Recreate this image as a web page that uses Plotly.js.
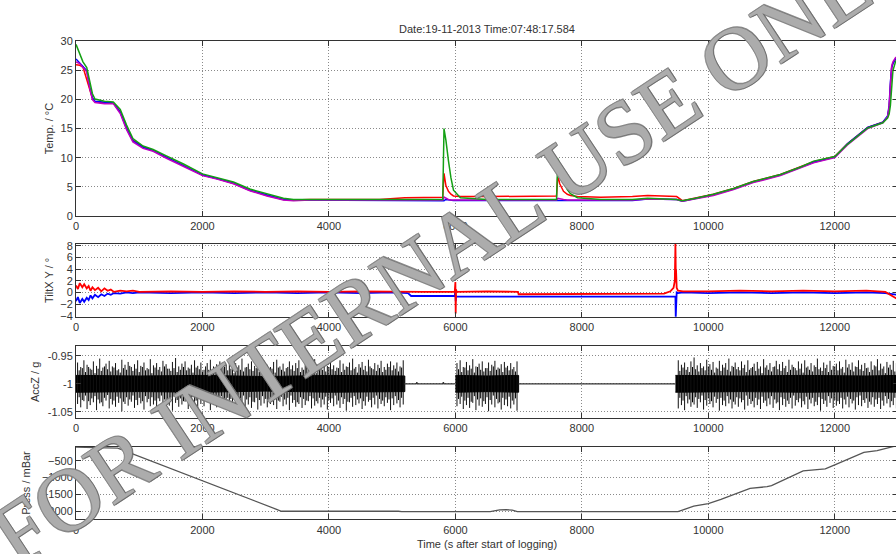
<!DOCTYPE html>
<html><head><meta charset="utf-8">
<script src="https://cdn.plot.ly/plotly-3.0.1.min.js"></script>
<style>html,body{margin:0;padding:0;overflow:hidden;background:#fff}#plot{width:898px;height:554px}</style>
</head><body><div id="plot"></div>
<script>
// ---------- Temperature panel ----------
const tempT = [0,60,110,170,220,260,300,450,590,700,800,900,1060,1220,1430,1700,2000,2230,2490,2750,3020,3280,3440,3700,4200,4800,5200,5500,5800,5820,5850,5890,5930,5970,6080,6500,6980,7300,7600,7620,7650,7710,7770,7820,7930,8300,8800,9040,9400,9500,9590,9800,10080,10400,10710,11140,11460,11665,12000,12200,12520,12760,12835,12860,12880,12900,12920,12960,13000];
const tempGreen = [29.5,28,26.5,25.5,23,21,20.1,19.7,19.6,18.3,15.6,13.3,12,11.4,10.3,8.9,7.2,6.6,5.8,4.6,3.8,3.0,2.8,2.8,2.8,2.8,2.8,2.8,2.8,15,13,9.5,6.5,4.4,3.1,2.8,2.8,2.8,2.8,9.8,8.8,5.8,4.5,3.8,3.1,2.8,2.8,3.0,2.9,2.8,2.6,3.0,3.7,4.7,5.9,7.1,8.4,9.4,10.2,12.3,15.1,16,16.8,17.5,19,22,25,26.5,27];
const tempBlue = [27,26.3,25.8,25,22,20.3,19.7,19.5,19.4,17.8,15,12.9,11.8,11.2,10.1,8.7,7.0,6.4,5.6,4.4,3.6,2.8,2.7,2.7,2.7,2.7,2.7,2.6,2.6,2.6,2.8,2.7,2.6,2.6,2.6,2.6,2.6,2.6,2.6,2.6,2.7,2.6,2.6,2.6,2.6,2.6,2.6,2.9,2.9,2.8,2.5,3.0,3.6,4.6,5.8,7.0,8.3,9.2,10.1,12.4,15.2,16.1,17.2,19,23,25.5,26.2,27,27.5];
const tempRed = [26,25.9,25.6,23.3,21.5,20.2,19.6,19.4,19.4,17.9,15.2,13,11.9,11.3,10.1,8.7,7.0,6.4,5.6,4.4,3.5,2.8,2.7,2.8,2.8,2.8,3.1,3.2,3.2,7.3,5.2,4.2,3.7,3.4,3.3,3.3,3.4,3.4,3.4,7.0,5.5,4.2,3.7,3.5,3.3,3.2,3.3,3.5,3.4,3.3,2.6,3.1,3.7,4.7,5.9,7.1,8.4,9.3,10.2,12.4,15.2,16.1,17.0,18.5,22,25.5,26.3,27,27.5];
const tempMagenta = [26.5,26.2,25.5,24.8,21.8,20,19.5,19.3,19.3,17.6,14.8,12.7,11.6,11.1,9.9,8.5,6.9,6.3,5.5,4.3,3.4,2.7,2.6,2.7,2.7,2.7,2.7,2.7,2.7,3.2,3.0,2.8,2.7,2.7,2.7,2.7,2.7,2.7,2.7,3.0,2.9,2.8,2.7,2.7,2.7,2.7,2.7,2.9,2.9,2.8,2.5,2.9,3.5,4.5,5.7,6.9,8.2,9.1,10.0,12.2,15.0,16.0,17.0,18.8,22.5,25.8,26.5,27.2,27.5];

// ---------- Tilt panel ----------
const tiltT = [0,30,60,100,130,170,200,230,260,300,350,400,450,500,550,600,700,800,900,1000,1500,2000,2500,3000,3500,4000,4500,5000,5250,5300,5500,5990,6000,6005,6010,6020,6500,6990,7000,7500,8000,8500,9000,9300,9400,9450,9470,9480,9485,9490,9500,9520,9600,10000,10500,11000,11500,12000,12500,12800,12900,13000];
const tiltX = [1.2,0.6,1.6,0.9,1.4,0.7,1.1,0.3,0.9,0.4,0.8,0.2,0.7,0.3,0.5,0.1,0.3,0.2,0.3,0.1,0.2,0.1,0.2,0.1,0.2,0.1,0.2,0.1,0.1,0.1,0.1,0.1,1.8,-3.6,0.5,0.1,0.2,0.1,-0.3,-0.3,-0.3,-0.3,-0.3,-0.2,0.2,0.8,2.0,8.4,4.0,3.8,0.8,0.3,0.2,0.2,0.3,0.2,0.3,0.2,0.3,0.1,-0.6,-1.2];
const tiltY = [-1.5,-0.8,-1.8,-1.1,-1.6,-0.9,-1.3,-0.5,-1.0,-0.4,-0.8,-0.3,-0.6,-0.2,-0.4,-0.1,-0.2,0,-0.1,0,-0.1,0,-0.1,0,-0.1,0,-0.1,0,-0.1,-0.6,-0.6,-0.6,0.5,-1.5,-0.6,-0.7,-0.7,-0.7,-0.7,-0.7,-0.7,-0.7,-0.7,-0.7,-0.7,-0.7,-0.7,-0.7,-4.2,-0.5,0,-0.1,0,-0.1,0,-0.1,0,-0.1,0,-0.1,-0.2,-0.4];

// ---------- AccZ panel (noise envelope per 50 s bin) ----------
const accT_A = [25,75,125,175,225,275,325,375,425,475,525,575,625,675,725,775,825,875,925,975,
1025,1075,1125,1175,1225,1275,1325,1375,1425,1475,1525,1575,1625,1675,1725,1775,1825,1875,1925,1975,
2025,2075,2125,2175,2225,2275,2325,2375,2425,2475,2525,2575,2625,2675,2725,2775,2825,2875,2925,2975,
3025,3075,3125,3175,3225,3275,3325,3375,3425,3475,3525,3575,3625,3675,3725,3775,3825,3875,3925,3975,
4025,4075,4125,4175,4225,4275,4325,4375,4425,4475,4525,4575,4625,4675,4725,4775,4825,4875,4925,4975,
5025,5075,5125,5175];
const accHi_A = [-0.962,-0.970,-0.958,-0.966,-0.973,-0.960,-0.968,-0.955,-0.971,-0.964,-0.959,-0.969,-0.963,-0.974,-0.957,-0.966,-0.961,-0.970,-0.965,-0.958,
-0.968,-0.962,-0.972,-0.956,-0.967,-0.963,-0.970,-0.959,-0.965,-0.973,-0.961,-0.954,-0.969,-0.964,-0.960,-0.971,-0.966,-0.958,-0.968,-0.962,
-0.975,-0.963,-0.957,-0.969,-0.965,-0.960,-0.972,-0.966,-0.958,-0.970,-0.963,-0.967,-0.955,-0.971,-0.964,-0.960,-0.968,-0.962,-0.974,-0.959,
-0.966,-0.970,-0.961,-0.957,-0.969,-0.964,-0.972,-0.960,-0.967,-0.963,-0.958,-0.971,-0.965,-0.961,-0.969,-0.956,-0.966,-0.973,-0.962,-0.968,
-0.960,-0.967,-0.971,-0.958,-0.964,-0.969,-0.962,-0.955,-0.970,-0.965,-0.961,-0.968,-0.957,-0.972,-0.963,-0.966,-0.959,-0.970,-0.964,-0.960,
-0.967,-0.962,-0.969,-0.958];
const accLo_A = [-1.036,-1.042,-1.031,-1.045,-1.038,-1.033,-1.047,-1.035,-1.040,-1.030,-1.044,-1.037,-1.041,-1.034,-1.049,-1.036,-1.039,-1.032,-1.043,-1.038,
-1.035,-1.046,-1.033,-1.040,-1.037,-1.042,-1.031,-1.044,-1.036,-1.039,-1.048,-1.034,-1.041,-1.037,-1.032,-1.045,-1.038,-1.035,-1.043,-1.036,
-1.040,-1.033,-1.047,-1.037,-1.042,-1.035,-1.039,-1.031,-1.044,-1.038,-1.036,-1.050,-1.034,-1.041,-1.037,-1.043,-1.033,-1.046,-1.039,-1.035,
-1.042,-1.036,-1.038,-1.045,-1.032,-1.040,-1.037,-1.047,-1.034,-1.041,-1.036,-1.043,-1.038,-1.031,-1.044,-1.039,-1.035,-1.042,-1.037,-1.046,
-1.034,-1.040,-1.037,-1.043,-1.036,-1.048,-1.033,-1.041,-1.038,-1.035,-1.045,-1.039,-1.032,-1.042,-1.037,-1.044,-1.036,-1.040,-1.034,-1.047,
-1.038,-1.035,-1.042,-1.037];
// in-between excursions (one between each pair of neighbouring bins)
const accMidHi_A = [-0.976,-0.972,-0.979,-0.970,-0.975,-0.981,-0.973,-0.977,-0.969,-0.974,-0.978,-0.971,-0.976,-0.980,-0.972,-0.975,-0.968,-0.977,-0.973,-0.979,
-0.970,-0.976,-0.974,-0.981,-0.971,-0.975,-0.978,-0.969,-0.973,-0.977,-0.972,-0.979,-0.975,-0.970,-0.976,-0.973,-0.980,-0.971,-0.974,-0.978,
-0.969,-0.975,-0.977,-0.972,-0.979,-0.974,-0.970,-0.976,-0.973,-0.981,-0.971,-0.975,-0.978,-0.970,-0.974,-0.977,-0.972,-0.979,-0.975,-0.969,
-0.976,-0.973,-0.980,-0.971,-0.975,-0.978,-0.970,-0.974,-0.977,-0.972,-0.979,-0.975,-0.969,-0.976,-0.973,-0.981,-0.971,-0.975,-0.978,-0.970,
-0.974,-0.977,-0.972,-0.979,-0.975,-0.970,-0.976,-0.973,-0.980,-0.971,-0.975,-0.978,-0.969,-0.974,-0.977,-0.972,-0.979,-0.975,-0.970,-0.976,
-0.973,-0.978,-0.971];
const accMidLo_A = [-1.024,-1.029,-1.021,-1.031,-1.026,-1.022,-1.028,-1.033,-1.025,-1.020,-1.027,-1.030,-1.023,-1.026,-1.032,-1.024,-1.028,-1.021,-1.029,-1.025,
-1.031,-1.022,-1.027,-1.024,-1.030,-1.026,-1.021,-1.028,-1.033,-1.025,-1.023,-1.029,-1.026,-1.031,-1.022,-1.027,-1.024,-1.030,-1.025,-1.021,
-1.028,-1.032,-1.024,-1.026,-1.029,-1.022,-1.031,-1.025,-1.027,-1.023,-1.030,-1.026,-1.021,-1.028,-1.024,-1.032,-1.025,-1.029,-1.022,-1.027,
-1.031,-1.024,-1.026,-1.030,-1.023,-1.028,-1.025,-1.021,-1.029,-1.033,-1.024,-1.027,-1.030,-1.022,-1.026,-1.031,-1.025,-1.028,-1.023,-1.029,
-1.026,-1.021,-1.030,-1.024,-1.027,-1.032,-1.025,-1.022,-1.028,-1.026,-1.031,-1.023,-1.029,-1.025,-1.021,-1.027,-1.030,-1.024,-1.028,-1.026,
-1.022,-1.029,-1.025];
const accT_B = [6025,6075,6125,6175,6225,6275,6325,6375,6425,6475,6525,6575,6625,6675,6725,6775,6825,6875,6925,6975];
const accHi_B = [-0.963,-0.958,-0.970,-0.961,-0.967,-0.956,-0.969,-0.964,-0.960,-0.972,-0.962,-0.966,-0.959,-0.971,-0.965,-0.961,-0.968,-0.963,-0.970,-0.960];
const accLo_B = [-1.040,-1.036,-1.045,-1.038,-1.043,-1.034,-1.047,-1.039,-1.041,-1.036,-1.049,-1.037,-1.042,-1.035,-1.046,-1.038,-1.040,-1.044,-1.037,-1.048];
const accMidHi_B = [-0.974,-0.979,-0.971,-0.976,-0.973,-0.980,-0.970,-0.975,-0.978,-0.972,-0.977,-0.969,-0.975,-0.973,-0.979,-0.971,-0.976,-0.974,-0.978];
const accMidLo_B = [-1.027,-1.023,-1.030,-1.025,-1.032,-1.022,-1.028,-1.026,-1.031,-1.024,-1.029,-1.021,-1.027,-1.033,-1.025,-1.028,-1.023,-1.030,-1.026];
const accT_C = [9525,9575,9625,9675,9725,9775,9825,9875,9925,9975,
10025,10075,10125,10175,10225,10275,10325,10375,10425,10475,10525,10575,10625,10675,10725,10775,10825,10875,10925,10975,
11025,11075,11125,11175,11225,11275,11325,11375,11425,11475,11525,11575,11625,11675,11725,11775,11825,11875,11925,11975,
12025,12075,12125,12175,12225,12275,12325,12375,12425,12475,12525,12575,12625,12675,12725,12775,12825,12875,12925,12975];
const accHi_C = [-0.958,-0.966,-0.962,-0.970,-0.960,-0.953,-0.967,-0.963,-0.969,-0.957,
-0.965,-0.961,-0.971,-0.959,-0.966,-0.963,-0.955,-0.968,-0.962,-0.970,
-0.960,-0.966,-0.958,-0.972,-0.964,-0.961,-0.969,-0.956,-0.967,-0.963,
-0.970,-0.959,-0.965,-0.961,-0.968,-0.957,-0.966,-0.972,-0.960,-0.964,
-0.958,-0.969,-0.963,-0.967,-0.955,-0.971,-0.962,-0.966,-0.959,-0.968,
-0.964,-0.960,-0.970,-0.957,-0.965,-0.962,-0.969,-0.958,-0.966,-0.963,
-0.971,-0.960,-0.967,-0.956,-0.964,-0.969,-0.961,-0.966,-0.959,-0.963];
const accLo_C = [-1.044,-1.038,-1.047,-1.035,-1.041,-1.037,-1.043,-1.033,-1.046,-1.039,
-1.036,-1.042,-1.034,-1.048,-1.038,-1.040,-1.035,-1.044,-1.037,-1.041,
-1.033,-1.046,-1.039,-1.036,-1.042,-1.038,-1.045,-1.034,-1.040,-1.037,
-1.043,-1.035,-1.047,-1.038,-1.041,-1.036,-1.044,-1.039,-1.033,-1.042,
-1.037,-1.045,-1.035,-1.040,-1.038,-1.048,-1.036,-1.041,-1.034,-1.043,
-1.039,-1.036,-1.044,-1.037,-1.042,-1.035,-1.046,-1.038,-1.040,-1.034,
-1.043,-1.037,-1.041,-1.036,-1.045,-1.039,-1.035,-1.042,-1.038,-1.044];
const accMidHi_C = [-0.977,-0.971,-0.975,-0.979,-0.970,-0.974,-0.978,-0.972,-0.976,-0.969,
-0.975,-0.980,-0.973,-0.977,-0.971,-0.975,-0.978,-0.970,-0.974,-0.976,
-0.972,-0.979,-0.975,-0.970,-0.977,-0.973,-0.981,-0.971,-0.975,-0.978,
-0.969,-0.974,-0.977,-0.972,-0.979,-0.975,-0.970,-0.976,-0.973,-0.980,
-0.971,-0.975,-0.978,-0.970,-0.974,-0.977,-0.972,-0.979,-0.975,-0.969,
-0.976,-0.973,-0.980,-0.971,-0.975,-0.978,-0.970,-0.974,-0.977,-0.972,
-0.979,-0.975,-0.969,-0.976,-0.973,-0.981,-0.971,-0.975,-0.978];
const accMidLo_C = [-1.025,-1.030,-1.022,-1.028,-1.033,-1.024,-1.027,-1.021,-1.029,-1.026,
-1.031,-1.023,-1.027,-1.025,-1.030,-1.022,-1.028,-1.032,-1.024,-1.026,
-1.029,-1.021,-1.027,-1.031,-1.025,-1.028,-1.023,-1.030,-1.026,-1.022,
-1.028,-1.033,-1.024,-1.027,-1.030,-1.025,-1.021,-1.029,-1.026,-1.031,
-1.023,-1.028,-1.025,-1.032,-1.024,-1.027,-1.030,-1.022,-1.026,-1.029,
-1.031,-1.025,-1.028,-1.023,-1.027,-1.030,-1.024,-1.021,-1.029,-1.026,
-1.032,-1.024,-1.028,-1.025,-1.030,-1.022,-1.027,-1.031,-1.025];
// dense core of the noise band for each noisy stretch
const coreT_A = [0,1000,2000,3000,4000,5200];
const coreHi_A = [-0.985,-0.986,-0.985,-0.987,-0.985,-0.986];
const coreLo_A = [-1.015,-1.014,-1.015,-1.013,-1.015,-1.014];
const coreT_B = [6000,6500,7000];
const coreHi_B = [-0.985,-0.986,-0.985];
const coreLo_B = [-1.015,-1.014,-1.015];
const coreT_C = [9480,10500,11500,12500,13000];
const coreHi_C = [-0.985,-0.986,-0.985,-0.986,-0.985];
const coreLo_C = [-1.015,-1.014,-1.015,-1.014,-1.015];
// quiet stretches
const quietT_1 = [5190,5380,5390,5400,5700,5800,5810,5820,5990];
const quietY_1 = [-1.0,-1.0,-0.997,-1.0,-1.0,-1.0,-0.997,-1.0,-1.0];
const quietT_2 = [7000,9480];
const quietY_2 = [-1.0,-1.0];

// ---------- Pressure panel ----------
const pressT = [0,120,300,660,3250,5100,5150,6550,6650,6700,6800,6900,6980,9520,9770,10000,10200,10660,10930,11000,11500,11850,12000,12460,12670,12950,13000];
const pressV = [-90,-100,-110,-120,-2000,-2000,-2010,-2010,-1975,-1960,-1955,-1965,-2010,-2010,-1850,-1770,-1650,-1320,-1270,-1240,-800,-740,-620,-250,-200,-60,-40];

const xTicks = [0,2000,4000,6000,8000,10000,12000];
const titleText = 'Date:19-11-2013 Time:07:48:17.584';
const watermark = 'FOR INTERNAL USE ONLY';

// ---------- build traces ----------
function segs(t, hi, lo){ const x=[],y=[]; for(let i=0;i<t.length;i++){x.push(t[i],t[i],null);y.push(hi[i],lo[i],null);} return {x,y}; }
function midSegs(t, hi, lo){ const x=[],y=[]; for(let i=0;i<hi.length;i++){const m=(t[i]+t[i+1])/2; x.push(m,m,null);y.push(hi[i],lo[i],null);} return {x,y}; }
function band(t, hi, lo){ return {x:t.concat(t.slice().reverse()), y:hi.concat(lo.slice().reverse())}; }
const traces = [];
const tl = (x,y,color,w,xa,ya)=>({type:'scatter',mode:'lines',x,y,line:{color,width:w},xaxis:xa,yaxis:ya,hoverinfo:'skip',showlegend:false});
traces.push(tl(tempT,tempRed,'#ff0000',1.5,'x','y'));
traces.push(tl(tempT,tempBlue,'#0000ff',1.5,'x','y'));
traces.push(tl(tempT,tempMagenta,'#c000c0',1.5,'x','y'));
traces.push(tl(tempT,tempGreen,'#14a014',1.5,'x','y'));
traces.push(tl(tiltT,tiltY,'#0000ff',1.8,'x2','y2'));
traces.push(tl(tiltT,tiltX,'#ff0000',1.8,'x2','y2'));
[[coreT_A,coreHi_A,coreLo_A],[coreT_B,coreHi_B,coreLo_B],[coreT_C,coreHi_C,coreLo_C]].forEach(s=>{
  const b=band(s[0],s[1],s[2]); const tr=tl(b.x,b.y,'#000',1,'x3','y3'); tr.fill='toself'; tr.fillcolor='#000'; traces.push(tr);
});
[[accT_A,accHi_A,accLo_A,accMidHi_A,accMidLo_A],[accT_B,accHi_B,accLo_B,accMidHi_B,accMidLo_B],[accT_C,accHi_C,accLo_C,accMidHi_C,accMidLo_C]].forEach(s=>{
  const d=segs(s[0],s[1],s[2]); traces.push(tl(d.x,d.y,'#111',1,'x3','y3'));
  const m=midSegs(s[0],s[3],s[4]); traces.push(tl(m.x,m.y,'#000',1,'x3','y3'));
});
traces.push(tl(quietT_1,quietY_1,'#333',1.2,'x3','y3'));
traces.push(tl(quietT_2,quietY_2,'#333',1.2,'x3','y3'));
traces.push(tl(pressT,pressV,'#555',1.3,'x4','y4'));

const font = {family:'Liberation Sans, Arial, sans-serif', size:11, color:'#333'};
const xax = (anchor)=>({range:[0,13000], anchor, tickvals:xTicks, tickformat:'d', ticks:'inside', ticklen:5, tickcolor:'#333', showline:true, linecolor:'#333', linewidth:1, mirror:'ticks', showgrid:true, gridcolor:'#8a8a8a', griddash:'1px,2px', gridwidth:1, zeroline:false, tickfont:font, domain:[0,1]});
const yax = (anchor, range, dom, tickvals, title, standoff, ticktext)=>({range, anchor, domain:dom, tickvals, ticktext, ticks:'inside', ticklen:5, tickcolor:'#333', showline:true, linecolor:'#333', linewidth:1, mirror:'ticks', showgrid:true, gridcolor:'#8a8a8a', griddash:'1px,2px', gridwidth:1, zeroline:false, tickfont:font, title:{text:title, font:font, standoff}});

const layout = {
  width:898, height:554, margin:{l:76,r:0,t:0,b:0}, paper_bgcolor:'#fff', plot_bgcolor:'#fff', showlegend:false,
  font:font,
  title:{text:titleText, font:{family:font.family,size:11,color:'#333'}, x:0.5, xref:'paper', y:1-29/554, yanchor:'middle'},
  xaxis:xax('y'), xaxis2:xax('y2'), xaxis3:xax('y3'),
  xaxis4:Object.assign(xax('y4'),{title:{text:'Time (s after start of logging)', font:font, standoff:5}}),
  yaxis:yax('x',[0,30],[0.6106,0.9251],[0,5,10,15,20,25,30],'Temp. / °C',4),
  yaxis2:yax('x2',[-4.15,8.3],[0.4283,0.5596],[-4,-2,0,2,4,6,8],'TiltX Y / °',4),
  yaxis3:yax('x3',[-1.061,-0.932],[0.2455,0.3760],[-1.05,-1,-0.95],'AccZ / g',5,['-1.05','-1','-0.95']),
  yaxis4:yax('x4',[-2240,-80],[0.0626,0.1937],[-2000,-1500,-1000,-500],'Press / mBar',9),
  annotations:[{text:watermark, xref:'paper', yref:'paper', x:0.460, y:0.5596, showarrow:false, textangle:-33.5,
    font:{family:'Liberation Serif, Times New Roman, serif', size:89, color:'rgba(178,178,178,0.9)', shadow:'1px 1px 0 #6a6a6a, -1px -1px 0 #8a8a8a, 1px -1px 0 #7a7a7a, -1px 1px 0 #7a7a7a'}}]
};
Plotly.newPlot('plot', traces, layout, {staticPlot:true, displayModeBar:false});
</script></body></html>
